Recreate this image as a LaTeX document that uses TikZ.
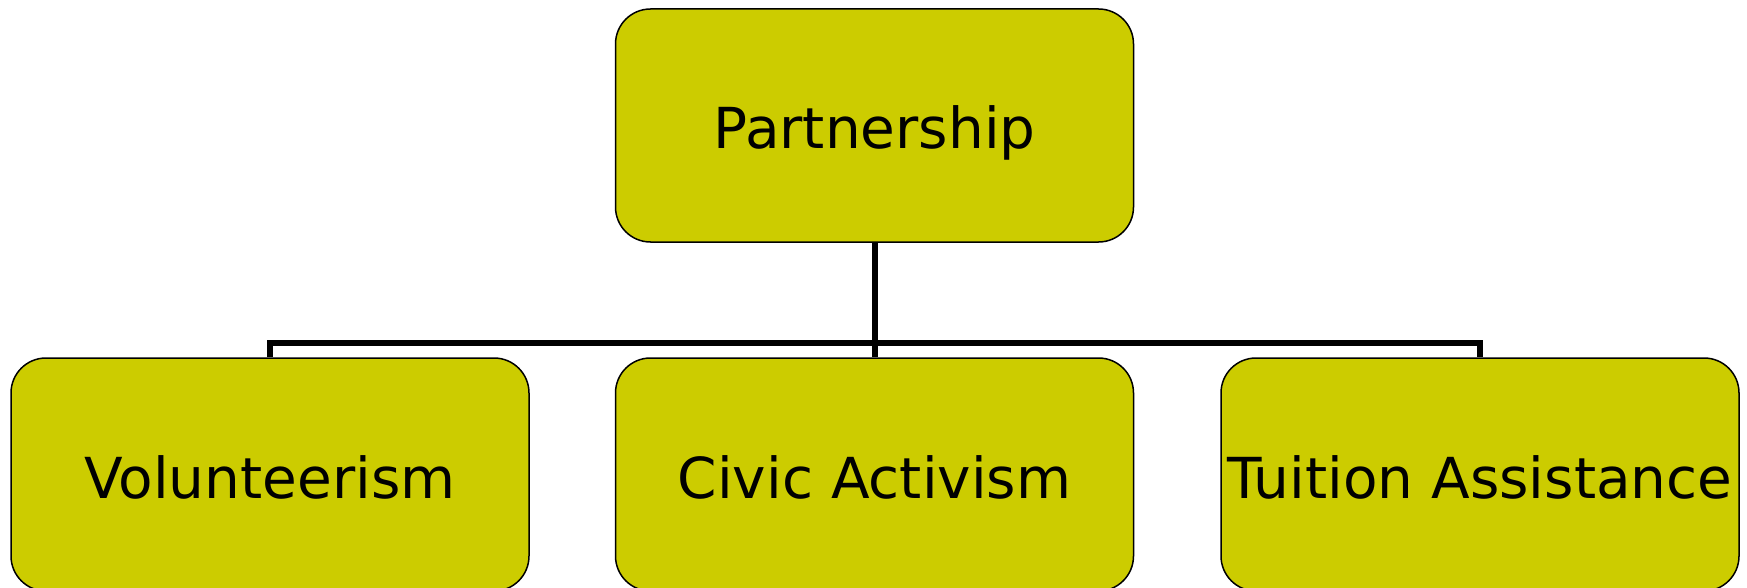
\documentclass[tikz,border=0pt]{standalone}
\usepackage{fontspec}
\setmainfont{DejaVu Sans}
\definecolor{boxfill}{HTML}{CCCC00}
\tikzset{
  orgbox/.style={draw=black, line width=1.5pt, fill=boxfill, rounded corners=35pt,
    minimum width=518pt, minimum height=233pt, inner sep=0pt,
    text height=47pt, text depth=0pt,
    font=\fontsize{56.5}{68}\selectfont},
  conn/.style={draw=black, line width=6pt, line join=miter}
}
\begin{document}
\begin{tikzpicture}[x=1pt,y=-1pt]
\useasboundingbox (0,0) rectangle (1747,588);
\node[orgbox] (top) at (874.5,125.5) {Partnership};
\node[orgbox] (left) at (270,474.5) {Volunteerism};
\node[orgbox] (mid) at (874.5,474.5) {Civic Activism};
\node[orgbox] (right) at (1480,474.5) {Tuition Assistance};
\draw[conn] (top.south) -- (mid.north);
\draw[conn] (left.north) -- ([yshift=14pt]left.north) -- ([yshift=14pt]right.north) -- (right.north);
\end{tikzpicture}
\end{document}
